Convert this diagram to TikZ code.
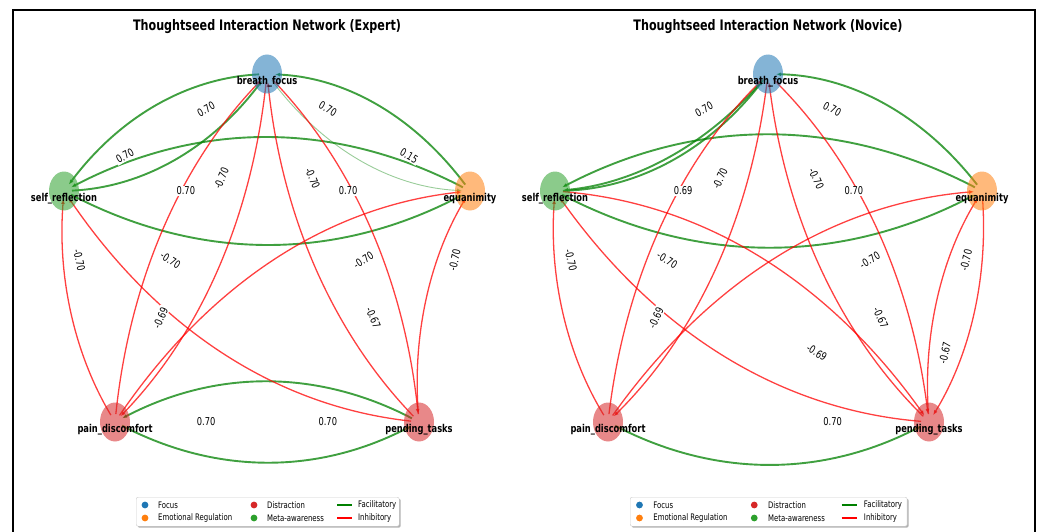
\documentclass[tikz,border=0pt]{standalone}
\usepackage{fontspec}
\setmainfont{DejaVu Sans}[FakeStretch=0.77]
\usetikzlibrary{arrows.meta,calc,shapes.geometric,shadows}

\definecolor{tabblue}{HTML}{1F77B4}
\definecolor{taborange}{HTML}{FF7F0E}
\definecolor{tabred}{HTML}{D62728}
\definecolor{tabgreen}{HTML}{2CA02C}
\definecolor{facgreen}{HTML}{008000}

\pgfdeclarelayer{edges}
\pgfsetlayers{edges,main}

% bent edge from #2 to #3, bend factor #4
\newcommand{\bentedge}[4]{%
  \draw[#1] let \p1=(#2.center), \p2=(#3.center),
    \p3=({#4*(\y2-\y1)/1.3},{#4*(\x1-\x2)*1.3}) in
    (\p1) .. controls ($(\p1)!0.333!(\p2)+0.667*(\p3)$)
      and ($(\p2)!0.333!(\p1)+0.667*(\p3)$) .. (\p2)}

\begin{document}
\begin{tikzpicture}[x=1pt,y=-1pt,
  thought/.style={ellipse,minimum width=30pt,minimum height=39pt,
    inner sep=0pt,fill opacity=0.55},
  focus/.style={thought,fill=tabblue},
  emoreg/.style={thought,fill=taborange},
  distract/.style={thought,fill=tabred},
  meta/.style={thought,fill=tabgreen},
  nlabel/.style={font=\bfseries\fontsize{10.8}{12}\selectfont,inner sep=0pt},
  wlabel/.style={fill=white,inner sep=1.2pt,font=\fontsize{10.8}{12}\selectfont},
  title/.style={font=\bfseries\fontsize{14.5}{17}\selectfont},
  link/.style={-{Latex[length=5pt,width=4pt]},shorten <=8pt,shorten >=8pt},
  fac/.style={link,draw=facgreen,opacity=0.75,line width=1.9pt},
  weak/.style={link,draw=facgreen,opacity=0.4,line width=0.9pt},
  inh/.style={link,draw=red,opacity=0.75,line width=1.3pt},
  legbox/.style={draw=black!20,fill=white,rounded corners=2pt,minimum height=29pt,
    drop shadow={shadow xshift=1.5pt,shadow yshift=-1.5pt,fill=black!50,opacity=0.6}},
  legtext/.style={anchor=west,inner sep=0pt,font=\fontsize{9}{10}\selectfont}
]
\useasboundingbox (0,0) rectangle (1041,532);
\draw[line width=2pt] (13,534) -- (13,10) -- (1035,10) -- (1035,534);

\node[title] (titleE) at (267,27) {Thoughtseed Interaction Network (Expert)};
\node[title] (titleN) at (768,27) {Thoughtseed Interaction Network (Novice)};

% nodes
\node[focus] (bfE) at (267,74) {};
\node[meta] (srE) at (64,191) {};
\node[emoreg] (eqE) at (470,191) {};
\node[distract] (pdE) at (115,422) {};
\node[distract] (ptE) at (419,422) {};
\node[focus] (bfN) at (768,74) {};
\node[meta] (srN) at (555,191) {};
\node[emoreg] (eqN) at (982,191) {};
\node[distract] (pdN) at (608,422) {};
\node[distract] (ptN) at (929,422) {};
\foreach \n/\t in {bf/breath\_focus,sr/self\_reflection,eq/equanimity,
                   pd/pain\_discomfort,pt/pending\_tasks}
  \foreach \p in {E,N}
    \node[nlabel] (\n\p-l) at ([yshift=-8pt]\n\p.center) {\t};

% edges
\begin{pgfonlayer}{edges}
\foreach \a/\b in {bfE/srE,srE/bfE,eqE/bfE,srE/eqE,eqE/srE,pdE/ptE,ptE/pdE,
                   srN/bfN,eqN/bfN,srN/eqN,eqN/srN,pdN/ptN}
  {\bentedge{fac}{\a}{\b}{0.2};}
\bentedge{weak}{bfE}{eqE}{0.2};
\bentedge{fac}{bfN}{srN}{-0.17};
\foreach \a/\b in {pdE/bfE,ptE/bfE,bfE/pdE,bfE/ptE,pdE/srE,ptE/srE,pdE/eqE,ptE/eqE,
                   pdN/bfN,ptN/bfN,bfN/pdN,bfN/ptN,pdN/srN,ptN/srN,srN/ptN,
                   pdN/eqN,ptN/eqN,eqN/ptN}
  {\bentedge{inh}{\a}{\b}{-0.2};}
\end{pgfonlayer}

% weights
\foreach \a/\b/\w in {srE/bfE/0.70,bfE/srE/0.70,eqE/bfE/0.70,bfE/eqE/0.15,
    eqE/srE/0.70,srE/eqE/0.70,pdE/ptE/0.70,ptE/pdE/0.70,
    pdE/bfE/-0.70,ptE/bfE/-0.70,bfE/pdE/-0.69,bfE/ptE/-0.67,
    pdE/srE/-0.70,ptE/srE/-0.70,pdE/eqE/-0.70,ptE/eqE/-0.70,
    srN/bfN/0.70,eqN/bfN/0.70,eqN/srN/0.69,srN/eqN/0.70,pdN/ptN/0.70,
    pdN/bfN/-0.70,ptN/bfN/-0.70,bfN/pdN/-0.69,bfN/ptN/-0.67,
    pdN/srN/-0.70,ptN/srN/-0.70,srN/ptN/-0.69,
    pdN/eqN/-0.70,ptN/eqN/-0.70,eqN/ptN/-0.67}
  \path (\a.center) -- node[wlabel,pos=0.7,sloped] {\w} (\b.center);

% legends
\foreach \p/\x/\k in {E/136/1,N/630/1.053} {
  \node[legbox,minimum width={263pt*\k},anchor=north west] (leg\p) at (\x,497) {};
  \fill[tabblue] ({\x+9*\k},505) circle (3.4pt);
  \fill[taborange] ({\x+9*\k},518) circle (3.4pt);
  \fill[tabred] ({\x+118*\k},505) circle (3.4pt);
  \fill[tabgreen] ({\x+118*\k},518) circle (3.4pt);
  \draw[facgreen,line width=1.5pt] ({\x+201*\k},505) -- ({\x+216*\k},505);
  \draw[red,line width=1.5pt] ({\x+201*\k},518) -- ({\x+216*\k},518);
  \node[legtext] (foc\p) at ({\x+22*\k},505) {Focus};
  \node[legtext] (emo\p) at ({\x+22*\k},518) {Emotional Regulation};
  \node[legtext] (dis\p) at ({\x+131*\k},505) {Distraction};
  \node[legtext] (met\p) at ({\x+131*\k},518) {Meta-awareness};
  \node[legtext] (fac\p) at ({\x+222*\k},505) {Facilitatory};
  \node[legtext] (inh\p) at ({\x+222*\k},518) {Inhibitory};
}
\end{tikzpicture}
\end{document}
